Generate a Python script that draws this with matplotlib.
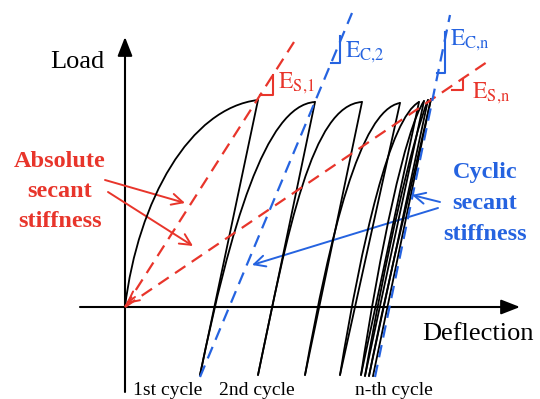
import matplotlib
matplotlib.use('Agg')
import matplotlib.pyplot as plt
from matplotlib.path import Path
from matplotlib.patches import PathPatch, FancyArrowPatch

plt.rcParams['font.family'] = ['Liberation Serif', 'DejaVu Serif']
plt.rcParams['mathtext.fontset'] = 'stix'
plt.rcParams['lines.scale_dashes'] = False

# hysteresis: start of each loading branch (valley), Bezier controls, peak
valley_x = [0, 75, 133, 180, 215, 236, 240, 244]
valley_y = [0, -68, -68, -68, -68, -68, -69, -69]
c1_x = [13, 105, 163, 205, 237, 255, 260, 265]
c1_y = [107, 77, 77, 72, 67, 57, 47, 37]
c2_x = [65, 140, 187, 235, 265, 280, 287, 295]
c2_y = [199, 202, 202, 197, 189, 177, 167, 157]
peak_x = [133, 190, 237, 275, 294, 299, 303, 306]
peak_y = [207, 205, 205, 204, 205, 206, 207, 208]
# end of each unloading branch
unload_x = [75, 133, 180, 215, 236, 240, 244, 248]
unload_y = [-68, -68, -68, -68, -68, -69, -69, -69]

# secant lines (start, end)
abs_secants = [((0, 0), (169, 265)), ((0, 0), (365, 247))]
cyc_secants = [((75, -70), (227, 294)), ((250, -70), (325, 292))]
# slope marks
mark_s1 = ([135, 148, 148], [212, 212, 232])
mark_c2 = ([206, 215, 215], [244, 244, 271])
mark_cn = ([312, 320, 320], [234, 234, 275])
mark_sn = ([327, 338, 338], [217, 217, 228])

red = '#e8352b'
blue = '#2563e0'


def arrow(ax, p0, p1, color, style, lw):
    ax.add_patch(FancyArrowPatch(p0, p1, arrowstyle=style, color=color,
                                 lw=lw, mutation_scale=10, shrinkA=0, shrinkB=0))


def main():
    fig = plt.figure(figsize=(5.4, 3.99), dpi=100, facecolor='w')
    ax = fig.add_axes([0, 0, 1, 1])
    ax.set_xlim(-125, 415)
    ax.set_ylim(-92, 307)
    ax.axis('off')

    # axes with arrows
    arrow(ax, (0, -85), (0, 270), 'black', '-|>,head_length=1.15,head_width=0.45', 1.5)
    arrow(ax, (-45, 0), (395, 0), 'black', '-|>,head_length=1.15,head_width=0.45', 1.5)

    # loading branches
    for i in range(len(peak_x)):
        verts = [(valley_x[i], valley_y[i]), (c1_x[i], c1_y[i]),
                 (c2_x[i], c2_y[i]), (peak_x[i], peak_y[i])]
        p = Path(verts, [Path.MOVETO, Path.CURVE4, Path.CURVE4, Path.CURVE4])
        ax.add_patch(PathPatch(p, fill=False, color='black', lw=1.3, zorder=2))
    # unloading branches
    for i in range(len(peak_x)):
        ax.plot([peak_x[i], unload_x[i]], [peak_y[i], unload_y[i]], color='black', lw=1.3, zorder=2)

    for (a, b) in abs_secants:
        ax.plot([a[0], b[0]], [a[1], b[1]], color=red, lw=1.6, ls=(0, (9, 5.5)), zorder=3)
    for (a, b) in cyc_secants:
        ax.plot([a[0], b[0]], [a[1], b[1]], color=blue, lw=1.6, ls=(0, (9, 5.5)), zorder=3)

    ax.plot(*mark_s1, color=red, lw=1.5)
    ax.plot(*mark_sn, color=red, lw=1.5)
    ax.plot(*mark_c2, color=blue, lw=1.5)
    ax.plot(*mark_cn, color=blue, lw=1.5)

    # labels
    ax.text(-75, 239, 'Load', fontsize=19, ha='left', va='baseline')
    ax.text(297, -33, 'Deflection', fontsize=19, ha='left', va='baseline')
    ax.text(8, -88, '1st cycle', fontsize=14, ha='left', va='baseline')
    ax.text(94, -88, '2nd cycle', fontsize=14, ha='left', va='baseline')
    ax.text(230, -88, 'n-th cycle', fontsize=14, ha='left', va='baseline')

    ax.text(153, 219, r'$\mathrm{E}_{\mathrm{S{,}1}}$', fontsize=17, color=red, va='baseline')
    ax.text(220, 250, r'$\mathrm{E}_{\mathrm{C{,}2}}$', fontsize=17, color=blue, va='baseline')
    ax.text(325, 262, r'$\mathrm{E}_{\mathrm{C{,}n}}$', fontsize=17, color=blue, va='baseline')
    ax.text(347, 209, r'$\mathrm{E}_{\mathrm{S{,}n}}$', fontsize=17, color=red, va='baseline')

    for s, yb in zip(['Absolute', 'secant', 'stiffness'], [140, 110, 80]):
        ax.text(-65, yb, s, fontsize=17.5, color=red, fontweight='bold', ha='center', va='baseline')
    for s, yb in zip(['Cyclic', 'secant', 'stiffness'], [129, 98, 67]):
        ax.text(360, yb, s, fontsize=17.5, color=blue, fontweight='bold', ha='center', va='baseline')

    # pointers
    arrow(ax, (-20, 127), (60, 104), red, '->,head_length=0.8,head_width=0.4', 1.4)
    arrow(ax, (-17, 115), (68, 61), red, '->,head_length=0.8,head_width=0.4', 1.4)
    arrow(ax, (10, 10), (1, 3), red, '->,head_length=0.8,head_width=0.4', 1.4)
    arrow(ax, (315, 105), (287, 112), blue, '->,head_length=0.8,head_width=0.4', 1.4)
    arrow(ax, (313, 99), (127, 42), blue, '->,head_length=0.8,head_width=0.4', 1.4)

    plt.savefig('out.png', dpi=100, facecolor='w')


if __name__ == '__main__':
    main()
